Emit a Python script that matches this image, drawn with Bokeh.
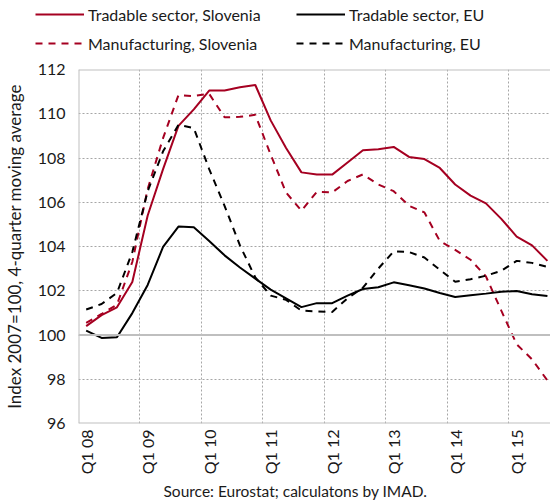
from math import pi
from bokeh.plotting import figure
from bokeh.models import FixedTicker, Legend, LegendItem, Span, Title, Range1d
from bokeh.embed import file_html
from bokeh.resources import INLINE

# quarterly index: 0 = Q1 2008 ... 30 = Q3 2015
quarters = list(range(31))

tradable_si = [100.4, 100.9, 101.25, 102.4, 105.4, 107.5, 109.45, 110.2, 111.05, 111.05,
               111.2, 111.3, 109.7, 108.45, 107.35, 107.25, 107.25, 107.8, 108.35, 108.4,
               108.5, 108.05, 107.95, 107.55, 106.8, 106.3, 105.95, 105.25, 104.45, 104.05,
               103.35]
manuf_si = [100.55, 100.95, 101.37, 103.3, 106.6, 108.9, 110.84, 110.8, 110.9, 109.84,
            109.86, 109.95, 108.15, 106.44, 105.62, 106.47, 106.44, 106.96, 107.26, 106.8,
            106.5, 105.84, 105.54, 104.25, 103.85, 103.4, 102.65, 101.1, 99.58, 98.9,
            97.94]
tradable_eu = [100.2, 99.87, 99.9, 100.99, 102.26, 103.98, 104.9, 104.87, 104.25, 103.6,
               103.05, 102.55, 102.05, 101.66, 101.26, 101.44, 101.44, 101.78, 102.08, 102.16,
               102.38, 102.25, 102.1, 101.9, 101.72, 101.8, 101.87, 101.95, 101.99, 101.84,
               101.76]
manuf_eu = [101.15, 101.4, 101.9, 103.75, 106.5, 108.3, 109.5, 109.35, 107.5, 105.84,
            104.05, 102.6, 101.78, 101.59, 101.1, 101.07, 101.04, 101.66, 102.14, 103.0,
            103.78, 103.75, 103.5, 102.95, 102.41, 102.52, 102.68, 102.9, 103.35, 103.26,
            103.08]

tick_labels = ["Q1 08", "Q1 09", "Q1 10", "Q1 11", "Q1 12", "Q1 13", "Q1 14", "Q1 15"]
tick_positions = [0, 4, 8, 12, 16, 20, 24, 28]
y_ticks = [96, 98, 100, 102, 104, 106, 108, 110, 112]

series_names = ["Tradable sector, Slovenia", "Manufacturing, Slovenia",
                "Tradable sector, EU", "Manufacturing, EU"]

RED = "#A50021"
BLACK = "#000000"
GRAY = "#BFBFBF"
TEXT = "#1a1a1a"
FONT = "Lato"
DASH = "7 6"

# ---------------- main chart ----------------
p = figure(width=550, height=442, output_backend="svg", toolbar_location=None,
           x_range=Range1d(-0.5, 30.2), y_range=Range1d(96, 112),
           min_border_left=77, min_border_right=0, min_border_top=9,
           min_border_bottom=74)

p.outline_line_color = None

p.yaxis.ticker = FixedTicker(ticks=y_ticks)
p.yaxis.major_label_text_font = FONT
p.yaxis.major_label_text_font_size = "16px"
p.yaxis.major_label_text_color = TEXT
p.yaxis.major_label_standoff = 13
p.yaxis.major_tick_out = 0
p.yaxis.major_tick_in = 0
p.yaxis.minor_tick_out = 0
p.yaxis.minor_tick_in = 0
p.yaxis.axis_line_color = None
p.yaxis.axis_label = "Index 2007=100, 4-quarter moving average"
p.yaxis.axis_label_text_font = FONT
p.yaxis.axis_label_text_font_size = "17px"
p.yaxis.axis_label_text_font_style = "normal"
p.yaxis.axis_label_text_color = TEXT
p.yaxis.axis_label_standoff = 10

p.xaxis.ticker = FixedTicker(ticks=tick_positions)
p.xaxis.major_label_overrides = {pos: lab for pos, lab in zip(tick_positions, tick_labels)}
p.xaxis.major_label_orientation = pi / 2
p.xaxis.major_label_text_font = FONT
p.xaxis.major_label_text_font_size = "16px"
p.xaxis.major_label_text_color = TEXT
p.xaxis.major_label_standoff = 6
p.xaxis.major_tick_out = 0
p.xaxis.major_tick_in = 0
p.xaxis.minor_tick_out = 0
p.xaxis.minor_tick_in = 0
p.xaxis.axis_line_color = None

p.xgrid.ticker = FixedTicker(ticks=[t - 0.5 for t in tick_positions[1:]])
p.xgrid.grid_line_color = "#A6A6A6"
p.xgrid.grid_line_dash = "2 2"
p.xgrid.grid_line_width = 1
p.ygrid.ticker = FixedTicker(ticks=y_ticks[1:-1])
p.ygrid.grid_line_color = "#A6A6A6"
p.ygrid.grid_line_dash = "2 2"
p.ygrid.grid_line_width = 1

# plot-area border (top, bottom, left) and the 100 baseline
for loc in (96, 100, 112):
    p.add_layout(Span(location=loc, dimension="width", line_color=GRAY, line_width=2))
p.add_layout(Span(location=-0.5, dimension="height", line_color=GRAY, line_width=2))

p.line(quarters, tradable_si, line_color=RED, line_width=2)
p.line(quarters, manuf_si, line_color=RED, line_width=2, line_dash=DASH)
p.line(quarters, tradable_eu, line_color=BLACK, line_width=2)
p.line(quarters, manuf_eu, line_color=BLACK, line_width=2, line_dash=DASH)

src = Title(text="Source: Eurostat; calculatons by IMAD.", align="left", offset=85,
            text_font=FONT, text_font_size="15.5px", text_font_style="normal",
            text_color=TEXT, standoff=5)
p.add_layout(src, "below")

# ---------------- legend strip (separate root, so frames are not aligned) ----------------
lg = figure(width=550, height=60, output_backend="svg", toolbar_location=None,
            x_range=Range1d(0, 1), y_range=Range1d(0, 1),
            x_axis_location=None, y_axis_location=None,
            min_border_left=0, min_border_right=0, min_border_top=0, min_border_bottom=0)
lg.outline_line_color = None
lg.xgrid.visible = False
lg.ygrid.visible = False

styles = [(RED, None), (RED, DASH), (BLACK, None), (BLACK, DASH)]
legend_renderers = []
for color, dash in styles:
    kw = dict(line_color=color, line_width=2)
    if dash:
        kw["line_dash"] = dash
    # proxy renderers outside the visible range; only their legend glyphs show
    legend_renderers.append(lg.line(x=[5, 6], y=[5, 6], **kw))


def make_legend(idx, x):
    items = [LegendItem(label=series_names[i], renderers=[legend_renderers[i]]) for i in idx]
    return Legend(items=items, location=(x, 7), padding=0, margin=0, spacing=9,
                  glyph_width=49, glyph_height=20, label_height=20, label_standoff=4,
                  label_text_font=FONT, label_text_font_size="16px",
                  label_text_color=TEXT,
                  border_line_alpha=0, background_fill_alpha=0)


lg.add_layout(make_legend([0, 1], 35), "center")
lg.add_layout(make_legend([2, 3], 296), "center")

open("out.html", "w").write(file_html([lg, p], INLINE))
